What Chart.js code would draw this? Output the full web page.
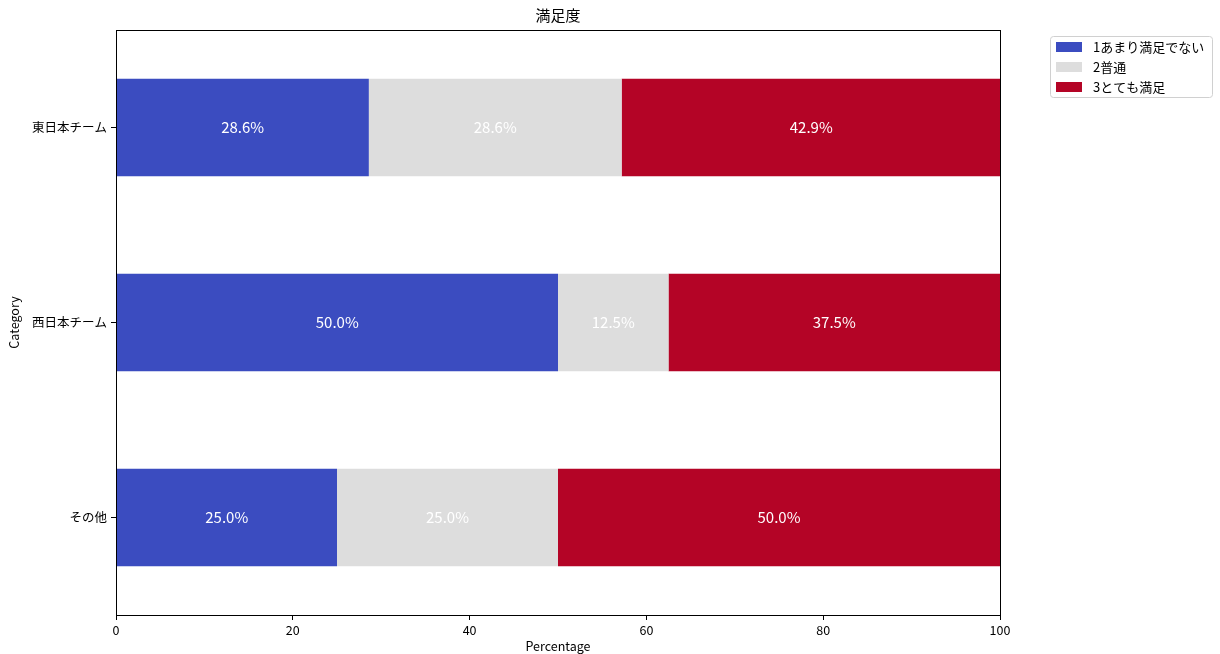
<!DOCTYPE html>
<html>
<head>
<meta charset="utf-8">
<script src="https://cdn.jsdelivr.net/npm/chart.js@4.4.1/dist/chart.umd.min.js"></script>
<style>
    html, body { margin: 0; padding: 0; background: #fff; }
    #wrap { width: 1220px; height: 654px; }
</style>
</head>
<body>
<div id="wrap"><canvas id="satisfactionChart"></canvas></div>
<script>
const categories = ['東日本チーム', '西日本チーム', 'その他'];
const seriesNames = ['1あまり満足でない', '2普通', '3とても満足'];
const notSatisfied = [28.6, 50.0, 25.0];
const neutral = [28.6, 12.5, 25.0];
const verySatisfied = [42.9, 37.5, 50.0];
const xTicks = [0, 20, 40, 60, 80, 100];
const chartTitle = '満足度';
const seriesColors = ['#3b4cc0', '#dddddd', '#b40426'];

const FONT = '"Noto Sans CJK JP", "Noto Sans", sans-serif';

// white percentage text in the middle of each segment
const barLabels = {
    id: 'barLabels',
    afterDatasetsDraw(chart) {
        const ctx = chart.ctx;
        ctx.save();
        ctx.fillStyle = '#ffffff';
        ctx.font = '15px ' + FONT;
        ctx.textAlign = 'center';
        ctx.textBaseline = 'middle';
        chart.data.datasets.forEach((ds, i) => {
            chart.getDatasetMeta(i).data.forEach((bar, j) => {
                const p = bar.getProps(['x', 'y', 'base'], true);
                ctx.fillText(ds.data[j].toFixed(1) + '%', (p.x + p.base) / 2, p.y);
            });
        });
        ctx.restore();
    }
};

// full box round the plot plus title centred over it
const frame = {
    id: 'frame',
    afterDraw(chart) {
        const a = chart.chartArea;
        const ctx = chart.ctx;
        ctx.save();
        ctx.strokeStyle = '#000';
        ctx.lineWidth = 1;
        ctx.strokeRect(Math.round(a.left) + 0.5, Math.round(a.top) + 0.5,
            Math.round(a.right - a.left), Math.round(a.bottom - a.top));
        ctx.fillStyle = '#000';
        ctx.font = '15px ' + FONT;
        ctx.textAlign = 'center';
        ctx.textBaseline = 'middle';
        ctx.fillText(chartTitle, (a.left + a.right) / 2, 15);
        ctx.restore();
    }
};

// legend box outside the plot, top right
const boxLegend = {
    id: 'boxLegend',
    afterDraw(chart) {
        const ctx = chart.ctx;
        const x = 1050, y = 36, w = 162, h = 61;
        ctx.save();
        ctx.strokeStyle = '#d0d0d0';
        ctx.lineWidth = 1;
        ctx.beginPath();
        ctx.roundRect(x + 0.5, y + 0.5, w, h, 3);
        ctx.stroke();
        ctx.font = '13px ' + FONT;
        ctx.textBaseline = 'middle';
        chart.data.datasets.forEach((ds, i) => {
            const cy = y + 11 + i * 20;
            ctx.fillStyle = ds.backgroundColor;
            ctx.fillRect(x + 6, cy - 5, 26, 10);
            ctx.fillStyle = '#000';
            ctx.fillText(ds.label, x + 43, cy);
        });
        ctx.restore();
    }
};

const datasets = [notSatisfied, neutral, verySatisfied].map((vals, i) => ({
    label: seriesNames[i],
    data: vals,
    backgroundColor: seriesColors[i],
    borderWidth: 0,
    barPercentage: 0.5,
    categoryPercentage: 1.0
}));

new Chart(document.getElementById('satisfactionChart'), {
    type: 'bar',
    data: { labels: categories, datasets: datasets },
    options: {
        indexAxis: 'y',
        responsive: true,
        maintainAspectRatio: false,
        animation: false,
        layout: { padding: { left: 0, right: 220, top: 30, bottom: 0 } },
        plugins: {
            legend: { display: false },
            tooltip: { enabled: false },
            title: { display: false }
        },
        scales: {
            x: {
                stacked: true,
                min: 0,
                max: 100,
                afterBuildTicks(scale) {
                    scale.ticks = xTicks.map(v => ({ value: v }));
                },
                afterFit(scale) { scale.height = 39; },
                grid: { drawOnChartArea: false, drawTicks: true, tickLength: 5, color: '#000' },
                border: { display: true, color: '#000' },
                ticks: { color: '#000', padding: 3, font: { family: FONT, size: 12.5 } },
                title: {
                    display: true,
                    text: 'Percentage',
                    color: '#000',
                    padding: 0,
                    font: { family: FONT, size: 12.5 }
                }
            },
            y: {
                stacked: true,
                afterFit(scale) { scale.width = 116; },
                grid: { offset: false, drawOnChartArea: false, drawTicks: true, tickLength: 5, color: '#000' },
                border: { display: true, color: '#000' },
                ticks: { color: '#000', padding: 4, font: { family: FONT, size: 12.5 } },
                title: {
                    display: true,
                    text: 'Category',
                    color: '#000',
                    padding: { top: 7, bottom: 0 },
                    font: { family: FONT, size: 12.5 }
                }
            }
        }
    },
    plugins: [barLabels, frame, boxLegend]
});
</script>
</body>
</html>
